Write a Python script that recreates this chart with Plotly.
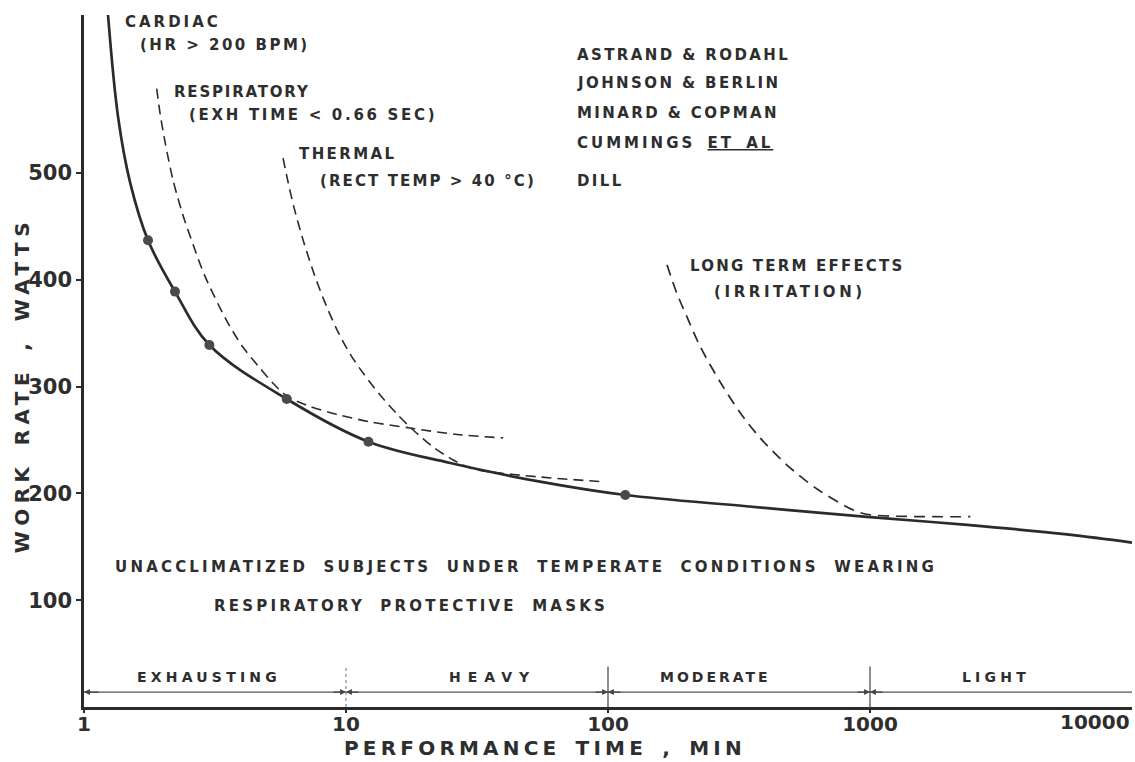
import math
import plotly.graph_objects as go

# ---- data: performance time (min) vs work rate (W) ----
cardiac_time = [1.235, 1.35, 1.50, 1.755, 2.225, 3.01, 5.94, 12.18, 25.0, 55.0,
                116.4, 337, 973, 2350, 5650, 10000]
cardiac_watts = [648, 552, 491, 437, 389, 339, 288.4, 248.4, 228.5, 211,
                 198.5, 188, 178, 170.5, 161.7, 154]

# measured points on the cardiac curve (study data)
study_time = [1.755, 2.225, 3.01, 5.94, 12.18, 116.4]
study_watts = [437, 389, 339, 288.4, 248.4, 198.5]

resp_time = [1.895, 1.951, 2.039, 2.187, 2.388, 2.608, 2.897, 3.516, 4.046, 4.699,
             5.268, 5.958, 7.104, 9.247, 12.36, 17.57, 26.56, 39.8]
resp_watts = [579, 556, 529, 493.4, 460.3, 433.1, 403.2, 361.1, 336.8, 317.2,
              303.1, 290.9, 282.4, 274, 267, 261.2, 255.2, 252]

thermal_time = [5.75, 6.01, 6.34, 6.86, 7.49, 8.18, 9.25, 10.37, 11.62, 13.5, 15.67,
                18.04, 21.5, 25.64, 29.77, 33.38, 53.66, 95.9]
thermal_watts = [514, 491.6, 467.2, 437.2, 408.2, 382.9, 353, 330.5, 312.7, 292.1, 274.3,
                 259.4, 243.4, 231.3, 223.8, 221, 215.6, 210.9]

longterm_time = [168, 183, 200, 225, 268, 320, 381, 482, 628, 863, 1000, 2415]
longterm_watts = [414, 387.6, 365.5, 337.4, 304.3, 275.3, 251.9, 226.6, 204.1, 184.4, 180, 178.2]

# work-category bands along the time axis
band_edges = [1, 10, 100, 1000, 10000]
band_names = ["EXHAUSTING", "HEAVY", "MODERATE", "LIGHT"]
band_label_left = [1.56, 24.3, 155.6, 2213]
band_label_spacing = [4.2, 7.0, 3.0, 4.2]
band_line_watts = 14
divider_top_watts = 38

x_ticks = [1, 10, 100, 1000, 10000]
y_ticks = [100, 200, 300, 400, 500]

INK = "#2b2b2b"
TXT = "#2e2e2e"
FONT = "DejaVu Sans"


def spaced(text, ls=3.0, ws=0.0, extra=""):
    return f'<span style="letter-spacing:{ls}px;word-spacing:{ws}px;{extra}">{text}</span>'


fig = go.Figure()

# category band line with divider ticks
fig.add_trace(go.Scatter(x=[band_edges[0], band_edges[-1]], y=[band_line_watts] * 2,
                         mode="lines", line=dict(color="#555", width=1.3),
                         hoverinfo="skip", showlegend=False))
for i, edge in enumerate(band_edges[1:-1]):
    fig.add_trace(go.Scatter(x=[edge, edge], y=[0, divider_top_watts], mode="lines",
                             line=dict(color="#444" if i else "#888", width=1.2,
                                       dash="solid" if i else "3px,3px"),
                             hoverinfo="skip", showlegend=False))

# limit curves
dashed = dict(color=INK, width=1.6, dash="10px,6px", shape="spline", smoothing=0.8)
fig.add_trace(go.Scatter(x=resp_time, y=resp_watts, mode="lines", line=dashed,
                         hoverinfo="skip", showlegend=False))
fig.add_trace(go.Scatter(x=thermal_time, y=thermal_watts, mode="lines", line=dashed,
                         hoverinfo="skip", showlegend=False))
fig.add_trace(go.Scatter(x=longterm_time, y=longterm_watts, mode="lines",
                         line=dict(dashed, width=1.7, dash="11px,7px"),
                         hoverinfo="skip", showlegend=False))
fig.add_trace(go.Scatter(x=cardiac_time, y=cardiac_watts, mode="lines",
                         line=dict(color=INK, width=2.7, shape="spline", smoothing=1.0),
                         hoverinfo="skip", showlegend=False))
fig.add_trace(go.Scatter(x=study_time, y=study_watts, mode="markers",
                         marker=dict(color="#4a4a4a", size=10),
                         hoverinfo="skip", showlegend=False))

ann = []


def label(text, t, w, size=15, ls=3.0, ws=0.0, anchor="left"):
    ann.append(dict(x=math.log10(t), y=w, xref="x", yref="y", text=spaced(text, ls, ws),
                    showarrow=False, xanchor=anchor, yanchor="middle",
                    font=dict(family=FONT, size=size, color=TXT, weight="bold")))


label("CARDIAC", 1.41, 641)
label("(HR &gt; 200 BPM)", 1.607, 620, ls=2.5)
label("RESPIRATORY", 2.17, 576, ls=1.8)
label("(EXH TIME &lt; 0.66 SEC)", 2.47, 554, ls=2.7)
label("THERMAL", 6.5, 518, ls=2.4)
label("(RECT TEMP &gt; 40 °C)", 7.82, 493, ls=2.1)
label("LONG TERM EFFECTS", 202, 413, ls=2.2)
label("(IRRITATION)", 250, 388.6, ls=3.6)

refs = ["ASTRAND &amp; RODAHL", "JOHNSON &amp; BERLIN", "MINARD &amp; COPMAN", None, "DILL"]
ref_watts = [610.5, 584, 556, 528, 493]
for r, w in zip(refs, ref_watts):
    if r:
        label(r, 75, w, ls=2.4)
ann.append(dict(x=math.log10(75), y=ref_watts[3], xref="x", yref="y",
                text=spaced("CUMMINGS ", 3.0, 4.0) +
                spaced("ET AL", 3.0, 4.0, "text-decoration:underline"),
                showarrow=False, xanchor="left", yanchor="middle",
                font=dict(family=FONT, size=15, color=TXT, weight="bold")))

label("UNACCLIMATIZED SUBJECTS UNDER TEMPERATE CONDITIONS WEARING", 1.29, 131, ls=3.2, ws=7)
label("RESPIRATORY PROTECTIVE MASKS", 3.08, 94.6, ls=3.2, ws=7)

for name, left, sp in zip(band_names, band_label_left, band_label_spacing):
    label(name, left, 28.5, size=14, ls=sp, ws=4)

# arrowheads on the band line
for k, edge in enumerate(band_edges[:-1]):
    offsets = [16] if k == 0 else [-14, 14]
    for off in offsets:
        ann.append(dict(x=math.log10(edge), y=band_line_watts, xref="x", yref="y", text="",
                        showarrow=True, ax=off, ay=0, arrowhead=2, arrowsize=0.9,
                        arrowwidth=1.3, arrowcolor="#444", standoff=0))

# last time tick, right-aligned at the plot edge
ann.append(dict(x=1.0, y=-0.0217, xref="paper", yref="paper", text=str(x_ticks[-1]),
                showarrow=False, xanchor="right", yanchor="middle",
                font=dict(family=FONT, size=20, color=TXT, weight="bold")))

# axis titles
ann.append(dict(x=0.44, y=-0.0592, xref="paper", yref="paper",
                text=spaced("PERFORMANCE TIME , MIN", 4.2, 4),
                showarrow=False, xanchor="center", yanchor="middle",
                font=dict(family=FONT, size=20, color=TXT, weight="bold")))
ann.append(dict(x=-0.0592, y=0.465, xref="paper", yref="paper",
                text=spaced("WORK RATE , WATTS", 5.4, 4),
                showarrow=False, xanchor="center", yanchor="middle", textangle=-90,
                font=dict(family=FONT, size=20, color=TXT, weight="bold")))

fig.update_layout(
    width=1135, height=762,
    margin=dict(l=84, r=3, t=15, b=55),
    paper_bgcolor="white", plot_bgcolor="white",
    showlegend=False,
    annotations=ann,
    xaxis=dict(type="log", range=[0, 4], showgrid=False, zeroline=False,
               showline=True, linecolor=INK, linewidth=2.6,
               tickvals=x_ticks[:-1], ticktext=[str(v) for v in x_ticks[:-1]],
               ticks="outside", ticklen=3, tickwidth=1.5, tickcolor=INK,
               ticklabelstandoff=-6,
               tickfont=dict(family=FONT, size=20, color=TXT, weight="bold")),
    yaxis=dict(range=[0, 648], showgrid=False, zeroline=False,
               showline=True, linecolor=INK, linewidth=2.6,
               tickvals=y_ticks, ticks="outside", ticklen=5, tickwidth=1.5, tickcolor=INK,
               tickfont=dict(family=FONT, size=21, color=TXT, weight="bold")),
)

fig.write_html("out.html")
